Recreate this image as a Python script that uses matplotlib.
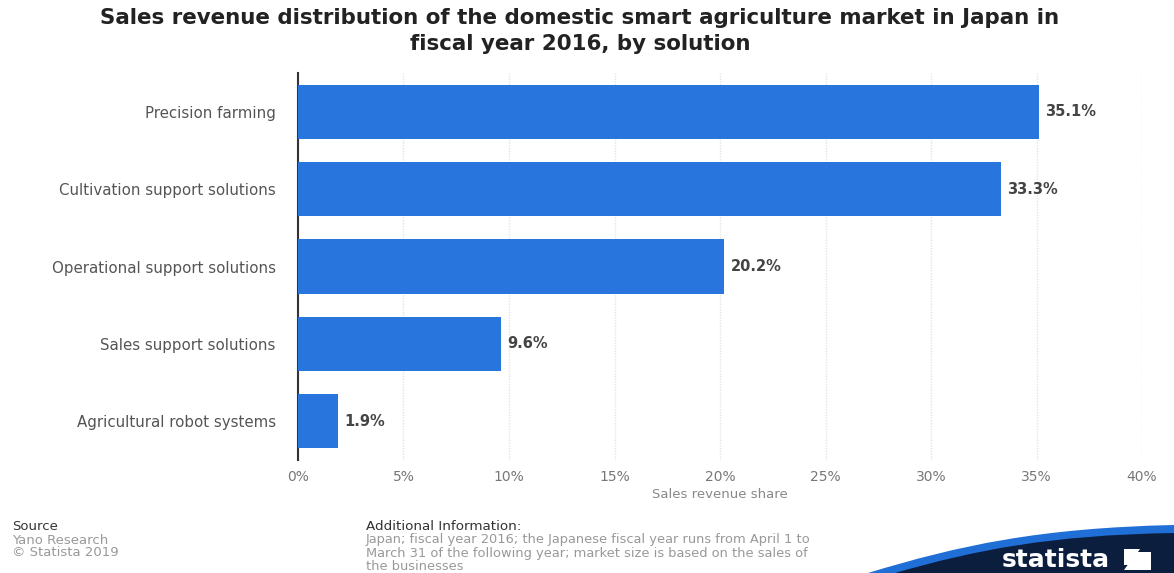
import matplotlib
matplotlib.use("Agg")
import matplotlib.pyplot as plt
from matplotlib.patches import Polygon, PathPatch
from matplotlib.path import Path
from matplotlib.ticker import FuncFormatter

categories = [
    "Precision farming",
    "Cultivation support solutions",
    "Operational support solutions",
    "Sales support solutions",
    "Agricultural robot systems",
]
shares = [35.1, 33.3, 20.2, 9.6, 1.9]
x_ticks = [0, 5, 10, 15, 20, 25, 30, 35, 40]

plt.rcParams["font.family"] = ["DejaVu Sans"]

W, H = 1174, 573
fig = plt.figure(figsize=(W / 100, H / 100), dpi=100)
fig.patch.set_facecolor("white")

ax = fig.add_axes([298 / W, 1 - 460 / H, (1142 - 298) / W, (460 - 73) / H])
ypos = list(range(len(categories)))
ax.barh(ypos, shares, height=0.7, color="#2876dd", zorder=3)
ax.set_ylim(len(categories) - 0.5, -0.5)
ax.set_xlim(0, 40)
ax.set_yticks(ypos)
ax.set_yticklabels(categories, fontsize=10.8, color="#555555")
ax.set_xticks(x_ticks)
ax.xaxis.set_major_formatter(FuncFormatter(lambda v, p: f"{v:.0f}%"))
ax.tick_params(axis="x", length=0, pad=7, labelsize=10, labelcolor="#777777")
ax.tick_params(axis="y", length=0, pad=16)
ax.grid(axis="x", color="#e4e4e4", linestyle=(0, (1, 1)), linewidth=1, zorder=0)
for s in ["top", "right", "bottom"]:
    ax.spines[s].set_visible(False)
ax.spines["left"].set_color("#333333")
ax.spines["left"].set_linewidth(1.5)
ax.set_facecolor("white")
ax.set_xlabel("Sales revenue share", fontsize=9.5, color="#888888", labelpad=3)

for y, v in zip(ypos, shares):
    ax.text(v + 0.3, y, f"{v}%", va="center", ha="left", fontsize=10.5,
            fontweight="bold", color="#444444")

fig.text(580 / W, 1 - 31 / H,
         "Sales revenue distribution of the domestic smart agriculture market in Japan in\nfiscal year 2016, by solution",
         ha="center", va="center", fontsize=15.4, fontweight="bold", color="#222222",
         linespacing=1.4)

# footer
fig.text(12 / W, 1 - 526 / H, "Source", fontsize=9.5, color="#333333", va="center")
fig.text(12 / W, 1 - 540 / H, "Yano Research", fontsize=9.5, color="#999999", va="center")
fig.text(12 / W, 1 - 553 / H, "\u00a9 Statista 2019", fontsize=9.5, color="#999999", va="center")

fig.text(366 / W, 1 - 526 / H, "Additional Information:", fontsize=9.7, color="#333333", va="center")
info = [
    "Japan; fiscal year 2016; the Japanese fiscal year runs from April 1 to",
    "March 31 of the following year; market size is based on the sales of",
    "the businesses",
]
for i, line in enumerate(info):
    fig.text(366 / W, 1 - (540 + 13 * i) / H, line, fontsize=9.4,
             color="#999999", va="center")

# statista badge with swoosh
def px(x, y):
    return (x / W, 1 - y / H)

codes = [Path.MOVETO, Path.CURVE4, Path.CURVE4, Path.CURVE4, Path.LINETO, Path.CLOSEPOLY]
verts = [px(868, 573), px(960, 545), px(1040, 528), px(1174, 525),
         px(1174, 573), px(868, 573)]
fig.patches.append(PathPatch(Path(verts, codes), transform=fig.transFigure,
                             facecolor="#1f6fd6", edgecolor="none"))
verts2 = [px(895, 573), px(975, 550), px(1050, 535), px(1174, 533),
          px(1174, 573), px(895, 573)]
fig.patches.append(PathPatch(Path(verts2, codes), transform=fig.transFigure,
                             facecolor="#0b1e3d", edgecolor="none"))
fig.text(1056 / W, 1 - 560 / H, "statista", fontsize=18, fontweight="bold",
         color="white", ha="center", va="center")
logo = [px(1124, 570), px(1137, 552), px(1151, 552), px(1151, 570)]
fig.patches.append(Polygon(logo, closed=True, transform=fig.transFigure,
                           facecolor="white", edgecolor="none"))
logo2 = [px(1124, 549), px(1140, 549), px(1129, 565), px(1124, 565)]
fig.patches.append(Polygon(logo2, closed=True, transform=fig.transFigure,
                           facecolor="white", edgecolor="none"))

fig.savefig("out.png", dpi=100, facecolor=fig.get_facecolor())
